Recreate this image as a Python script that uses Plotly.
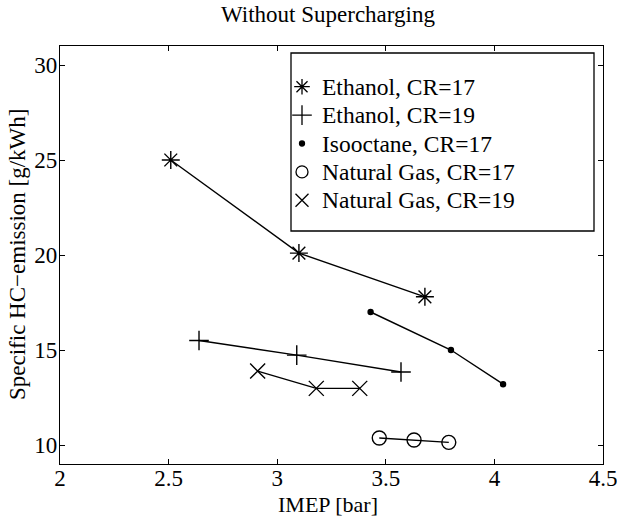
import plotly.graph_objects as go

eth17_x = [2.51, 3.10, 3.68]
eth17_y = [25.0, 20.1, 17.8]
eth19_x = [2.64, 3.09, 3.57]
eth19_y = [15.5, 14.73, 13.84]
iso17_x = [3.43, 3.80, 4.04]
iso17_y = [17.0, 15.0, 13.2]
ng17_x = [3.47, 3.63, 3.79]
ng17_y = [10.37, 10.26, 10.14]
ng19_x = [2.91, 3.18, 3.38]
ng19_y = [13.89, 12.98, 12.98]

names = ["Ethanol, CR=17", "Ethanol, CR=19", "Isooctane, CR=17",
         "Natural Gas, CR=17", "Natural Gas, CR=19"]
xs_all = [eth17_x, eth19_x, iso17_x, ng17_x, ng19_x]
ys_all = [eth17_y, eth19_y, iso17_y, ng17_y, ng19_y]
symbols = ["asterisk-open", "cross-thin-open", "circle", "circle-open", "x-thin-open"]
sizes = [15, 14, 5, 14, 15]
legend_sizes = [13, 14, 5, 12, 13]

FONT = "Liberation Serif"
FS = 23
W, H = 617, 518
ML, MR, MT, MB = 60, 14, 46, 54
PW, PH = W - ML - MR, H - MT - MB

fig = go.Figure()
for xs, ys in zip(xs_all, ys_all):
    fig.add_trace(go.Scatter(x=xs, y=ys, mode="lines", line=dict(color="black", width=1.4),
                             showlegend=False, hoverinfo="skip"))
for name, xs, ys, sym, sz in zip(names, xs_all, ys_all, symbols, sizes):
    fig.add_trace(go.Scatter(x=xs, y=ys, mode="markers", name=name, showlegend=False,
                             marker=dict(symbol=sym, size=sz, color="black",
                                         line=dict(color="black", width=1.4))))

# legend (drawn manually so its box and row spacing match)
def px_to_paper_x(px):
    return (px - ML) / PW

def px_to_paper_y(py):
    return (H - MB - py) / PH

box_left, box_right, box_top, box_bottom = 291, 594, 53, 231
row0, row_gap = 86.7, 28.4
sym_x, text_x = 302, 320
fig.add_shape(type="rect", xref="paper", yref="paper",
              x0=px_to_paper_x(box_left), x1=px_to_paper_x(box_right),
              y0=px_to_paper_y(box_bottom), y1=px_to_paper_y(box_top),
              line=dict(color="black", width=1.3), fillcolor="white", layer="below")
for i, (name, sym, sz) in enumerate(zip(names, symbols, legend_sizes)):
    ry = px_to_paper_y(row0 + i * row_gap)
    fig.add_trace(go.Scatter(x=[px_to_paper_x(sym_x)], y=[ry], xaxis="x2", yaxis="y2",
                             mode="markers", showlegend=False, hoverinfo="skip",
                             cliponaxis=False,
                             marker=dict(symbol=sym, size=sz, color="black",
                                         line=dict(color="black", width=1.3))))
    fig.add_annotation(text=name, xref="paper", yref="paper", x=px_to_paper_x(text_x), y=ry,
                       xanchor="left", yanchor="middle", showarrow=False,
                       font=dict(family=FONT, size=23.5, color="black"))

axis_common = dict(showline=True, linecolor="black", linewidth=1.3, mirror="ticks",
                   ticks="inside", ticklen=5, tickcolor="black", showgrid=False,
                   zeroline=False, automargin=False, ticklabeloverflow="allow",
                   tickfont=dict(family=FONT, size=FS, color="black"))
fig.update_layout(
    width=W, height=H,
    margin=dict(l=ML, r=MR, t=MT, b=MB),
    paper_bgcolor="white", plot_bgcolor="white",
    font=dict(family=FONT, size=FS, color="black"),
    showlegend=False,
    title=dict(text="Without Supercharging", xref="paper", x=px_to_paper_x(328), xanchor="center",
               yref="container", y=1 - 14 / H, yanchor="middle",
               font=dict(family=FONT, size=23)),
    xaxis=dict(range=[2, 4.5], tickvals=[2, 2.5, 3, 3.5, 4, 4.5],
               ticktext=["2", "2.5", "3", "3.5", "4", "4.5"], ticklabelstandoff=-7,
               **axis_common),
    yaxis=dict(range=[9, 31], tickvals=[10, 15, 20, 25, 30], ticklabelstandoff=-3,
               **axis_common),
    xaxis2=dict(range=[0, 1], overlaying="x", visible=False, fixedrange=True),
    yaxis2=dict(range=[0, 1], overlaying="y", visible=False, fixedrange=True),
)
fig.add_annotation(text="IMEP [bar]", xref="paper", yref="paper", x=px_to_paper_x(328), y=0,
                   xanchor="center", yanchor="middle", yshift=-40, showarrow=False,
                   font=dict(family=FONT, size=22))
fig.add_annotation(text="Specific HC\u2212emission [g/kWh]", xref="paper", yref="paper",
                   x=0, y=0.5, xanchor="center", yanchor="middle", xshift=-43,
                   textangle=-90, showarrow=False, font=dict(family=FONT, size=FS))
fig.write_html("out.html", config={"displayModeBar": False},
               post_script="document.body.style.margin='0';document.body.style.overflow='hidden';")
